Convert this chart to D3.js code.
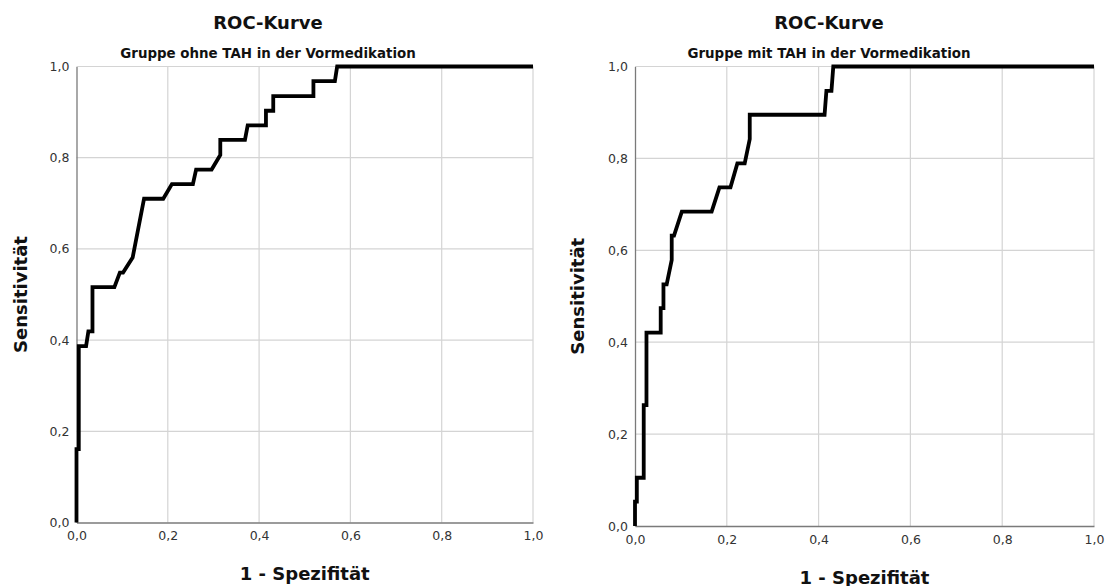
<!DOCTYPE html>
<html>
<head>
<meta charset="utf-8">
<script src="https://cdn.jsdelivr.net/npm/d3@7"></script>
<style>
  body { margin: 0; background: #fff; }
  svg { display: block; font-family: "DejaVu Sans", sans-serif; }
</style>
</head>
<body>
<svg id="canvas" width="1108" height="586"></svg>
<script>
// ROC points (1 - specificity, sensitivity)
const fprOhne = [0, 0, 0.005, 0.005, 0.021, 0.026, 0.035, 0.035, 0.083, 0.095, 0.102, 0.123, 0.148, 0.19, 0.209, 0.255, 0.262, 0.296, 0.315, 0.315, 0.369, 0.375, 0.415, 0.415, 0.431, 0.431, 0.519, 0.519, 0.566, 0.571, 1];
const tprOhne = [0, 0.161, 0.161, 0.387, 0.387, 0.419, 0.419, 0.516, 0.516, 0.548, 0.548, 0.581, 0.71, 0.71, 0.742, 0.742, 0.774, 0.774, 0.806, 0.839, 0.839, 0.871, 0.871, 0.903, 0.903, 0.935, 0.935, 0.968, 0.968, 1, 1];

const fprMit = [0, 0, 0.004, 0.004, 0.019, 0.019, 0.025, 0.025, 0.056, 0.056, 0.062, 0.062, 0.069, 0.08, 0.08, 0.085, 0.102, 0.167, 0.184, 0.208, 0.223, 0.239, 0.25, 0.25, 0.413, 0.417, 0.428, 0.432, 1];
const tprMit = [0, 0.053, 0.053, 0.105, 0.105, 0.263, 0.263, 0.421, 0.421, 0.474, 0.474, 0.526, 0.526, 0.579, 0.632, 0.632, 0.684, 0.684, 0.737, 0.737, 0.789, 0.789, 0.842, 0.895, 0.895, 0.947, 0.947, 1, 1];

const ticks = [0, 0.2, 0.4, 0.6, 0.8, 1.0];
const title = "ROC-Kurve";
const subtitles = ["Gruppe ohne TAH in der Vormedikation", "Gruppe mit TAH in der Vormedikation"];
const xLabel = "1 - Spezifität";
const yLabel = "Sensitivität";

const panels = [
  { fpr: fprOhne, tpr: tprOhne, sub: subtitles[0], left: 76.5, right: 533, top: 66.5, bottom: 522.5, titleX: 268, yLabX: 20, xLabY: 573 },
  { fpr: fprMit, tpr: tprMit, sub: subtitles[1], left: 635, right: 1094, top: 66.5, bottom: 526, titleX: 829, yLabX: 577, xLabY: 577 }
];

const fmt = d => d3.format(".1f")(d).replace(".", ",");
const svg = d3.select("svg#canvas");

panels.forEach(p => {
  const x = d3.scaleLinear().domain([0, 1]).range([p.left, p.right]);
  const y = d3.scaleLinear().domain([0, 1]).range([p.bottom, p.top]);
  const g = svg.append("g");

  // grid
  g.append("g")
    .selectAll("line")
    .data(ticks.slice(1))
    .join("line")
      .attr("x1", d => x(d)).attr("x2", d => x(d))
      .attr("y1", p.top).attr("y2", p.bottom)
      .attr("stroke", "#d4d4d4").attr("stroke-width", 1.2);
  g.append("g")
    .selectAll("line")
    .data(ticks.slice(1))
    .join("line")
      .attr("x1", p.left).attr("x2", p.right)
      .attr("y1", d => y(d)).attr("y2", d => y(d))
      .attr("stroke", "#d4d4d4").attr("stroke-width", 1.2);

  // axes
  const xAxis = g.append("g")
    .attr("transform", `translate(0,${p.bottom})`)
    .call(d3.axisBottom(x).tickValues(ticks).tickFormat(fmt).tickSize(0).tickPadding(9));
  const yAxis = g.append("g")
    .attr("transform", `translate(${p.left},0)`)
    .call(d3.axisLeft(y).tickValues(ticks).tickFormat(fmt).tickSize(0).tickPadding(7));
  [xAxis, yAxis].forEach(a => {
    a.select(".domain").attr("stroke", "#7a7a7a").attr("stroke-width", 1.3);
    a.selectAll("text").attr("fill", "#333").attr("font-size", 12.5)
      .attr("font-family", "DejaVu Sans, sans-serif");
  });

  // curve
  const pts = p.fpr.map((v, i) => [v, p.tpr[i]]);
  g.append("path")
    .datum(pts)
    .attr("fill", "none")
    .attr("stroke", "#000")
    .attr("stroke-width", 3.8)
    .attr("stroke-linejoin", "miter")
    .attr("d", d3.line().x(d => x(d[0])).y(d => y(d[1])));

  // titles
  g.append("text")
    .attr("x", p.titleX).attr("y", 29)
    .attr("text-anchor", "middle")
    .attr("font-size", 18).attr("font-weight", "bold").attr("fill", "#111")
    .text(title);
  g.append("text")
    .attr("x", p.titleX).attr("y", 58)
    .attr("text-anchor", "middle")
    .attr("font-size", 13.4).attr("font-weight", "bold").attr("fill", "#111")
    .text(p.sub);

  g.append("text")
    .attr("x", (p.left + p.right) / 2).attr("y", p.xLabY + 6.5)
    .attr("text-anchor", "middle")
    .attr("font-size", 18).attr("font-weight", "bold").attr("fill", "#111")
    .text(xLabel);
  g.append("text")
    .attr("transform", `translate(${p.yLabX + 6.5},${(p.top + p.bottom) / 2}) rotate(-90)`)
    .attr("text-anchor", "middle")
    .attr("font-size", 18).attr("font-weight", "bold").attr("fill", "#111")
    .text(yLabel);
});
</script>
</body>
</html>
